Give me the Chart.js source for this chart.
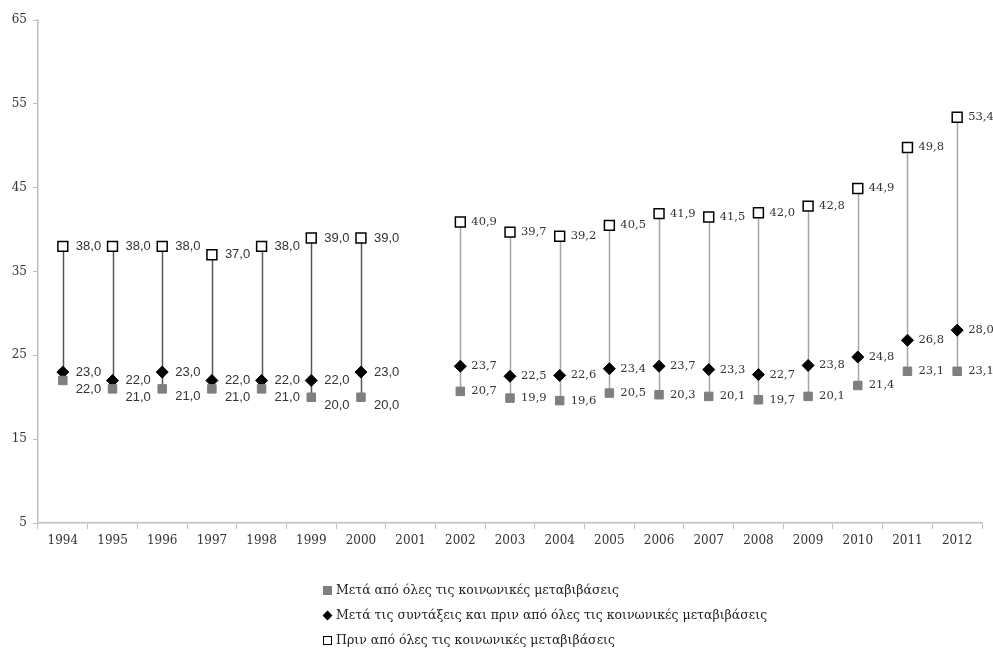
<!DOCTYPE html>
<html>
<head>
<meta charset="utf-8">
<script src="https://cdn.jsdelivr.net/npm/chart.js@4.4.1/dist/chart.umd.min.js"></script>
<style>
  body { margin: 0; background: #fff; }
  #wrap { position: relative; width: 993px; height: 648px; }
  #legend { position: absolute; left: 323px; top: 580px; font-family: "DejaVu Serif", serif; font-size: 12.5px; color: #222; }
  #legend div { height: 25px; line-height: 20px; white-space: nowrap; }
  .mk { display: inline-block; width: 9px; height: 9px; margin-right: 4px; vertical-align: -1px; box-sizing: border-box; }
</style>
</head>
<body>
<div id="wrap">
  <canvas id="chart" width="993" height="648"></canvas>
  <div id="legend"></div>
</div>
<script>
// Years on the x axis (2001 has no data)
var years = ['1994','1995','1996','1997','1998','1999','2000','2001','2002','2003','2004','2005','2006','2007','2008','2009','2010','2011','2012'];

// Before all social transfers
var beforeAll = [38.0,38.0,38.0,37.0,38.0,39.0,39.0,null,40.9,39.7,39.2,40.5,41.9,41.5,42.0,42.8,44.9,49.8,53.4];
// After pensions, before other transfers
var afterPensions = [23.0,22.0,23.0,22.0,22.0,22.0,23.0,null,23.7,22.5,22.6,23.4,23.7,23.3,22.7,23.8,24.8,26.8,28.0];
// After all social transfers
var afterAll = [22.0,21.0,21.0,21.0,21.0,20.0,20.0,null,20.7,19.9,19.6,20.5,20.3,20.1,19.7,20.1,21.4,23.1,23.1];

var yTicks = [5,15,25,35,45,55,65];

var labelNames = [
    'Μετά από όλες τις κοινωνικές μεταβιβάσεις',
    'Μετά τις συντάξεις και πριν από όλες τις κοινωνικές μεταβιβάσεις',
    'Πριν από όλες τις κοινωνικές μεταβιβάσεις'
];

var serif = '"DejaVu Serif", serif';

function fmt(v) {
    return v.toFixed(1).replace('.', ',');
}

// Draws the vertical line between lowest and highest value of each year
var dropLines = {
    id: 'dropLines',
    beforeDatasetsDraw: function(chart) {
        var ctx = chart.ctx;
        var x = chart.scales.x, y = chart.scales.y;
        ctx.save();
        for (let i = 0; i < years.length; i++) {
            if (beforeAll[i] === null) continue;
            let hi = Math.max(beforeAll[i], afterPensions[i], afterAll[i]);
            let lo = Math.min(beforeAll[i], afterPensions[i], afterAll[i]);
            let px = Math.round(x.getPixelForValue(i)) + 0.5;
            ctx.strokeStyle = i < 7 ? '#555555' : '#a6a6a6';
            ctx.lineWidth = 1.5;
            ctx.beginPath();
            ctx.moveTo(px, y.getPixelForValue(hi));
            ctx.lineTo(px, y.getPixelForValue(lo));
            ctx.stroke();
        }
        ctx.restore();
    }
};

// Value labels on the right of each marker
var valueLabels = {
    id: 'valueLabels',
    afterDatasetsDraw: function(chart) {
        var ctx = chart.ctx;
        var x = chart.scales.x, y = chart.scales.y;
        ctx.save();
        ctx.fillStyle = '#333333';
        ctx.textAlign = 'left';
        ctx.textBaseline = 'middle';
        for (let i = 0; i < years.length; i++) {
            if (beforeAll[i] === null) continue;
            let early = i < 7;
            ctx.font = early ? '13px "Liberation Sans", Arial, sans-serif' : '11.5px ' + serif;
            let px = x.getPixelForValue(i) + (early ? 13 : 11);
            let yTop = y.getPixelForValue(beforeAll[i]);
            let yMid = y.getPixelForValue(afterPensions[i]);
            let yLow = y.getPixelForValue(afterAll[i]) + (early ? 8 : 0);
            // keep the two lower labels from overlapping
            if (yLow - yMid < 17) {
                yLow = yMid + 17;
            }
            ctx.fillText(fmt(beforeAll[i]), px, yTop);
            ctx.fillText(fmt(afterPensions[i]), px, yMid);
            ctx.fillText(fmt(afterAll[i]), px, yLow);
        }
        ctx.restore();
    }
};

var chart = new Chart(document.getElementById('chart'), {
    type: 'line',
    data: {
        labels: years,
        datasets: [
            {
                label: labelNames[0],
                data: afterAll,
                showLine: false,
                pointStyle: 'rect',
                pointRadius: 6,
                pointBackgroundColor: '#7f7f7f',
                pointBorderColor: '#7f7f7f',
                pointBorderWidth: 1
            },
            {
                label: labelNames[1],
                data: afterPensions,
                showLine: false,
                pointStyle: 'rectRot',
                pointRadius: 6,
                pointBackgroundColor: '#000000',
                pointBorderColor: '#000000',
                pointBorderWidth: 1
            },
            {
                label: labelNames[2],
                data: beforeAll,
                showLine: false,
                pointStyle: 'rect',
                pointRadius: 7,
                pointBackgroundColor: '#ffffff',
                pointBorderColor: '#000000',
                pointBorderWidth: 1.5
            }
        ]
    },
    options: {
        responsive: false,
        animation: false,
        layout: { padding: { left: 0, right: 11, top: 20, bottom: 95 } },
        plugins: {
            legend: { display: false },
            tooltip: { enabled: false }
        },
        scales: {
            x: {
                offset: true,
                grid: { offset: true, drawOnChartArea: false, drawTicks: true, tickLength: 6, color: '#bfbfbf' },
                border: { color: '#bfbfbf', width: 1.5 },
                ticks: { color: '#333333', font: { family: serif, size: 12 }, padding: 5, maxRotation: 0, autoSkip: false },
                afterFit: function(s) { s.height = 30; }
            },
            y: {
                min: 5,
                max: 65,
                afterBuildTicks: function(s) { s.ticks = yTicks.map(function(v) { return { value: v }; }); },
                grid: { drawOnChartArea: false, drawTicks: true, tickLength: 5, color: '#bfbfbf' },
                border: { color: '#bfbfbf', width: 1.5 },
                ticks: { color: '#333333', font: { family: serif, size: 12 }, padding: 6 },
                afterFit: function(s) { s.width = 38; }
            }
        }
    },
    plugins: [dropLines, valueLabels]
});

// Legend built as HTML below the plot
var legendHtml = '';
legendHtml += '<div><span class="mk" style="background:#7f7f7f"></span>' + labelNames[0] + '</div>';
legendHtml += '<div><span class="mk" style="width:7px;height:7px;background:#000;transform:rotate(45deg);margin-left:1px;margin-right:5px;vertical-align:0px"></span>' + labelNames[1] + '</div>';
legendHtml += '<div><span class="mk" style="border:1px solid #000;background:#fff"></span>' + labelNames[2] + '</div>';
document.getElementById('legend').innerHTML = legendHtml;
</script>
</body>
</html>
